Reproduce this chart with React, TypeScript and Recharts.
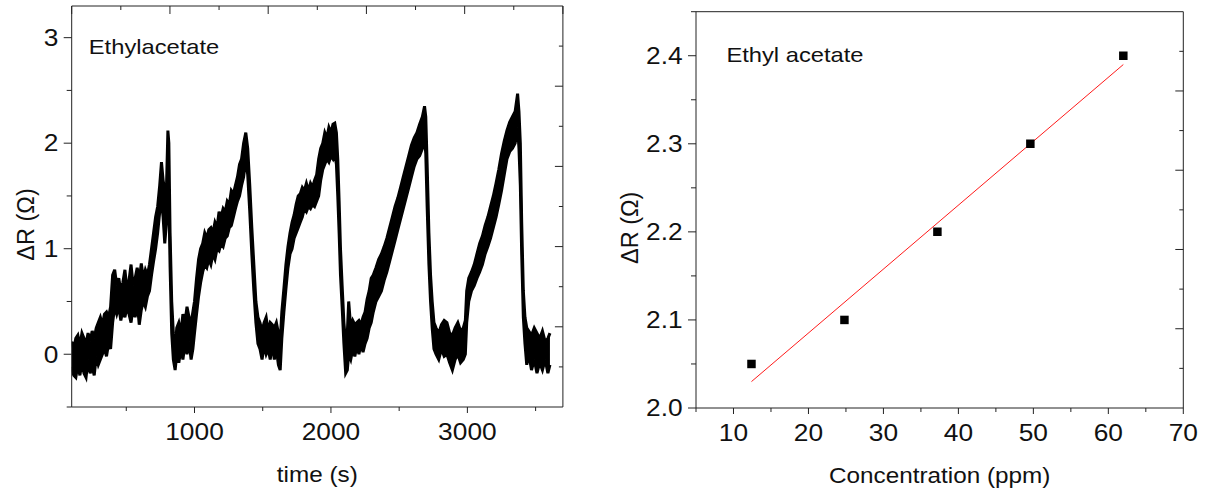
import React from 'react';
import { ComposedChart, Area, XAxis, YAxis, Scatter, Line, ZAxis } from 'recharts';

const FONT = '"Liberation Sans", Arial, Helvetica, sans-serif';
const SX = 1.13; // horizontal stretch of the original figure's lettering
const INK = '#222';
const TICK_FS = 23.3;
const TITLE_FS = 21.5;
const YTITLE_FS = 23.5;

// ---------- left panel: ΔR vs time (noisy band, low / high envelope) ----------
const timeS = [
  100, 115, 130, 145, 160, 175, 190, 205, 220, 235, 250, 265, 280, 295, 310, 325, 340, 355, 370, 385,
  400, 415, 430, 445, 460, 475, 490, 505, 520, 535, 550, 565, 580, 595, 610, 625, 640, 655,
  670, 685, 700, 715, 730, 745, 758, 770, 782, 795, 805, 812, 821, 833, 845, 858,
  870, 885, 900, 915, 930, 945, 960, 975, 988,
  1000, 1015, 1030, 1045, 1060, 1075, 1090, 1105, 1120, 1135, 1150, 1165, 1180, 1195, 1210, 1225, 1240, 1255, 1270, 1285, 1300, 1315, 1330, 1345, 1360, 1376,
  1390, 1405, 1420, 1435, 1450, 1465,
  1480, 1495, 1510, 1525, 1540, 1555, 1570, 1585, 1600, 1615, 1628,
  1640, 1655, 1670, 1685, 1700, 1715, 1730, 1745, 1760, 1775, 1790, 1805, 1820, 1835, 1850, 1865, 1880, 1895, 1910, 1925, 1940, 1955, 1970, 1985, 2000, 2015, 2028, 2040,
  2050, 2060, 2070, 2082, 2095, 2108,
  2120, 2130, 2145, 2160, 2175, 2190, 2205, 2220, 2235, 2250, 2265, 2280,
  2295, 2310, 2330, 2350, 2370, 2390, 2410, 2430, 2450, 2470, 2490, 2510, 2530, 2550, 2570, 2590, 2610, 2630, 2650, 2670, 2686,
  2695, 2705, 2718, 2730, 2742, 2755,
  2770, 2790, 2810, 2830, 2850, 2870, 2890, 2910, 2930, 2950, 2970, 2985,
  2995, 3010, 3030, 3050, 3070, 3090, 3110, 3130, 3150, 3170, 3190, 3210, 3230, 3250, 3270, 3290, 3310, 3330, 3350, 3368,
  3378, 3388, 3398, 3410, 3422,
  3435, 3450, 3470, 3490, 3510, 3530, 3550, 3570, 3590, 3605,
];
const lowOhm = [
  -0.12, -0.2, -0.22, -0.1, -0.2, -0.08, -0.18, -0.22, -0.05, -0.18, -0.12, -0.2, -0.02, -0.1, -0.05, 0.0, 0.05, -0.02, 0.1, 0.05,
  0.3, 0.45, 0.38, 0.45, 0.32, 0.42, 0.35, 0.45, 0.38, 0.3, 0.45, 0.35, 0.5, 0.28, 0.42, 0.5, 0.45, 0.55,
  0.6, 0.75, 0.88, 1.0, 1.15, 1.35, 1.45, 1.3, 1.05, 1.25, 1.6, 1.5, 0.83, 0.2, -0.05, -0.15,
  0.0, -0.08, 0.05, -0.05, 0.1, 0.0, 0.12, -0.05, 0.05,
  0.2, 0.38, 0.55, 0.68, 0.78, 0.85, 0.82, 0.9, 0.85, 0.95, 0.9, 1.0, 0.98, 1.05, 1.02, 1.1, 1.12, 1.2, 1.22, 1.3, 1.38, 1.45, 1.5, 1.6, 1.68, 1.85,
  1.7, 1.35, 0.95, 0.6, 0.3, 0.1,
  0.05, -0.05, 0.08, 0.0, 0.05, -0.05, 0.1, -0.05, 0.05, -0.1, -0.15,
  0.15, 0.4, 0.62, 0.82, 0.95, 1.0, 1.1, 1.15, 1.2, 1.25, 1.3, 1.38, 1.35, 1.4, 1.38, 1.42, 1.4, 1.45, 1.5, 1.65, 1.75, 1.8, 1.85, 1.82, 1.88, 1.85, 1.9, 1.8,
  1.5, 1.15, 0.75, 0.45, 0.1, -0.18,
  -0.15, 0.0, -0.05, 0.05, -0.02, 0.08, 0.0, 0.1, 0.02, 0.1, 0.15, 0.25,
  0.3, 0.4, 0.5, 0.55, 0.6, 0.7, 0.78, 0.88, 0.98, 1.08, 1.18, 1.28, 1.38, 1.48, 1.58, 1.68, 1.78, 1.85, 1.88, 1.95, 2.05,
  1.9, 1.4, 0.85, 0.5, 0.25, 0.05,
  0.0, -0.05, 0.05, -0.02, 0.0, -0.08, -0.15, -0.05, 0.0, -0.08, -0.05, 0.0,
  0.3, 0.5, 0.6, 0.65, 0.72, 0.78, 0.85, 0.95, 1.02, 1.1, 1.2, 1.3, 1.42, 1.55, 1.7, 1.85, 1.92, 1.95, 2.0, 2.15,
  1.95, 1.6, 0.95, 0.35, 0.1,
  -0.1, 0.0, -0.15, -0.05, -0.18, -0.08, -0.15, -0.05, -0.18, -0.1,
];
const highOhm = [
  0.12, 0.05, 0.15, 0.18, 0.08, 0.2, 0.15, 0.1, 0.2, 0.12, 0.22, 0.15, 0.25, 0.3, 0.35, 0.28, 0.38, 0.4, 0.35, 0.45,
  0.75, 0.8, 0.65, 0.72, 0.6, 0.68, 0.8, 0.62, 0.7, 0.85, 0.65, 0.72, 0.82, 0.7, 0.86, 0.72, 0.8, 0.75,
  0.85, 1.0, 1.15, 1.3, 1.4, 1.6, 1.82, 1.65, 1.55, 1.6, 2.12, 2.0, 1.15, 0.5, 0.2, 0.05,
  0.25, 0.3, 0.2, 0.38, 0.3, 0.45, 0.35, 0.3, 0.4,
  0.5, 0.72, 0.9, 1.0, 1.05, 1.15, 1.1, 1.18, 1.2, 1.15, 1.25, 1.2, 1.35, 1.3, 1.38, 1.35, 1.45, 1.42, 1.55, 1.52, 1.6, 1.68, 1.8, 1.85, 2.0, 2.1,
  1.95, 1.6, 1.2, 0.85, 0.5, 0.35,
  0.3, 0.22, 0.3, 0.35, 0.22, 0.3, 0.28, 0.25, 0.3, 0.2, 0.12,
  0.4, 0.62, 0.85, 1.02, 1.15, 1.25, 1.32, 1.42, 1.5, 1.52, 1.58, 1.55, 1.62, 1.55, 1.62, 1.58, 1.65, 1.7, 1.85, 1.95, 2.0, 2.1, 2.05, 2.15, 2.1, 2.18, 2.19, 2.1,
  1.85, 1.45, 1.0, 0.65, 0.3, 0.1,
  0.2, 0.5, 0.25, 0.32, 0.28, 0.3, 0.32, 0.28, 0.35, 0.4, 0.52, 0.6,
  0.72, 0.75, 0.82, 0.9, 0.95, 1.02, 1.1, 1.2, 1.3, 1.4, 1.48, 1.58, 1.68, 1.78, 1.88, 1.98, 2.05, 2.1, 2.18, 2.25, 2.35,
  2.25, 1.8, 1.15, 0.75, 0.5, 0.3,
  0.25, 0.2, 0.28, 0.32, 0.3, 0.2, 0.18, 0.25, 0.3, 0.22, 0.25, 0.32,
  0.6, 0.72, 0.78, 0.85, 0.95, 1.05, 1.12, 1.22, 1.3, 1.4, 1.5, 1.62, 1.75, 1.9, 2.02, 2.12, 2.2, 2.25, 2.3, 2.47,
  2.3, 2.0, 1.25, 0.6, 0.35,
  0.25, 0.22, 0.18, 0.25, 0.2, 0.15, 0.22, 0.12, 0.15, 0.2,
];
const timeTicks = [500, 1000, 1500, 2000, 2500, 3000, 3500];
const timeDRTicks = [-0.5, 0, 0.5, 1, 1.5, 2, 2.5, 3];
// top frame ticks of the left panel (ten divisions of the 100–3700 s range)
const timeFrameTicks = [100, 460, 820, 1180, 1540, 1900, 2260, 2620, 2980, 3340, 3700];

// ---------- right panel: ΔR vs concentration ----------
const concPpm = [12.4, 24.8, 37.2, 49.6, 62.0];
const calDR = [2.05, 2.1, 2.2, 2.3, 2.4];
const fitConc = [12.4, 62.0];
const fitDR = [2.03, 2.39];
const concTicks = [5, 10, 15, 20, 25, 30, 35, 40, 45, 50, 55, 60, 65, 70];
const calTicks = [2.0, 2.05, 2.1, 2.15, 2.2, 2.25, 2.3, 2.35, 2.4, 2.45];

// frame (opposite side) axes: ten divisions
const frameTicks = [0, 1, 2, 3, 4, 5, 6, 7, 8, 9, 10];
const frameInnerTicks = [1, 2, 3, 4, 5, 6, 7, 8, 9];

const leftData = timeS.map((t, i) => ({ t, band: [lowOhm[i], highOhm[i]] }));
const calData = concPpm.map((x, i) => ({ x, y: calDR[i] }));
const fitData = fitConc.map((x, i) => ({ x, y: fitDR[i] }));

type Side = 'bottom' | 'left' | 'top' | 'right';
const near = (v: number, step: number) => Math.abs(v / step - Math.round(v / step)) < 1e-6;

function makeTick(side: Side, isMajor: (v: number) => boolean, majorLen: number, minorLen: number, fmt?: (v: number) => string) {
  return (props: any) => {
    const { x, y, payload } = props;
    const v = Number(payload.value);
    const maj = isMajor(v);
    const len = maj ? majorLen : minorLen;
    let x2 = x;
    let y2 = y;
    if (side === 'bottom' || side === 'top') y2 = y + len;
    else x2 = x - len;
    let lab: any = null;
    if (maj && fmt) {
      if (side === 'bottom') {
        lab = (
          <g transform={`translate(${x},${y + 32.7}) scale(${SX},1)`}>
            <text x={0} y={0} textAnchor="middle" fontSize={TICK_FS} fontFamily={FONT} fill="#111">{fmt(v)}</text>
          </g>
        );
      } else if (side === 'left') {
        lab = (
          <g transform={`translate(${x - 13.3},${y + 8.3}) scale(${SX},1)`}>
            <text x={0} y={0} textAnchor="end" fontSize={TICK_FS} fontFamily={FONT} fill="#111">{fmt(v)}</text>
          </g>
        );
      }
    }
    return (
      <g>
        <line x1={x} y1={y} x2={x2} y2={y2} stroke={INK} strokeWidth={1} />
        {lab}
      </g>
    );
  };
}

const xTitle = (text: string) => (props: any) => {
  const vb = props.viewBox;
  return (
    <g transform={`translate(${vb.x + vb.width / 2},${vb.y + 74.7}) scale(${SX},1)`}>
      <text x={0} y={0} textAnchor="middle" fontSize={TITLE_FS} fontFamily={FONT} fill="#111">{text}</text>
    </g>
  );
};
const yTitle = (text: string) => (props: any) => {
  const vb = props.viewBox;
  const cx = vb.x + 14;
  const cy = vb.y + vb.height / 2 + 18;
  return (
    <g transform={`translate(${cx},${cy}) rotate(-90)`}>
      <text x={0} y={0} textAnchor="middle" dominantBaseline="central" fontSize={YTITLE_FS} fontFamily={FONT} fill="#111">{text}</text>
    </g>
  );
};

const axisLine = { stroke: INK, strokeWidth: 1 };

const bottomTimeTick = makeTick('bottom', (v) => near(v, 1000), 6, 4, (v) => String(v));
const leftTimeTick = makeTick('left', (v) => near(v, 1), 8, 5, (v) => String(v));
const topTimeFrameTick = makeTick('top', (v) => near((v - 100) / 360, 2), 8, 4);
const bottomConcTick = makeTick('bottom', (v) => near(v, 10), 6, 4, (v) => String(v));
const leftCalTick = makeTick('left', (v) => near(v, 0.1), 8, 5, (v) => v.toFixed(1));
const topFrameTick = makeTick('top', (v) => near(v, 2), 8, 4);
const rightFrameTick = makeTick('right', (v) => near(v, 2), 8, 4);

function Annotation({ x, y, text }: { x: number; y: number; text: string }) {
  return (
    <g transform={`translate(${x},${y}) scale(${SX},1)`}>
      <text x={0} y={0} fontSize={21} fontFamily={FONT} fill="#111">{text}</text>
    </g>
  );
}

export default function App() {
  return (
    <div style={{ position: 'absolute', left: 0, top: 0, width: 1210, height: 497, background: '#fff', overflow: 'hidden' }}>
      <div style={{ position: 'absolute', left: 0, top: 0 }}>
        <ComposedChart width={600} height={497} data={leftData} margin={{ top: 1, right: 32.1, bottom: 0, left: 11.7 }}>
          <XAxis xAxisId="b" dataKey="t" type="number" domain={[100, 3700]} allowDataOverflow ticks={timeTicks} interval={0}
            tickSize={0} tickMargin={0} tickLine={false} tick={bottomTimeTick} height={90} axisLine={axisLine} label={xTitle('time (s)')} />
          <XAxis xAxisId="t" orientation="top" dataKey="t" type="number" domain={[100, 3700]} allowDataOverflow ticks={timeFrameTicks} interval={0}
            tickSize={0} tickMargin={0} tickLine={false} tick={topTimeFrameTick} height={5} axisLine={axisLine} />
          <YAxis yAxisId="l" type="number" domain={[-0.5, 3.3]} allowDataOverflow ticks={timeDRTicks} interval={0}
            tickSize={0} tickMargin={0} tickLine={false} tick={leftTimeTick} width={60} axisLine={axisLine} label={yTitle('ΔR (Ω)')} />
          <YAxis yAxisId="r" orientation="right" type="number" domain={[0, 10]} allowDataOverflow ticks={frameInnerTicks} interval={0}
            tickSize={0} tickMargin={0} tickLine={false} tick={rightFrameTick} width={5} axisLine={axisLine} />
          <Area xAxisId="b" yAxisId="l" dataKey="band" type="linear" stroke="#000" strokeWidth={3} fill="#000" fillOpacity={1}
            dot={false} activeDot={false} isAnimationActive={false} />
        </ComposedChart>
      </div>
      <div style={{ position: 'absolute', left: 600, top: 0 }}>
        <ComposedChart width={610} height={497} margin={{ top: 6.7, right: 21.7, bottom: 0, left: 16 }}>
          <XAxis xAxisId="b" dataKey="x" type="number" domain={[5, 70]} allowDataOverflow ticks={concTicks} interval={0}
            tickSize={0} tickMargin={0} tickLine={false} tick={bottomConcTick} height={89} axisLine={axisLine} label={xTitle('Concentration (ppm)')} />
          <XAxis xAxisId="t" orientation="top" type="number" domain={[0, 10]} allowDataOverflow ticks={frameTicks} interval={0}
            tickSize={0} tickMargin={0} tickLine={false} tick={topFrameTick} height={5} axisLine={axisLine} />
          <YAxis yAxisId="l" type="number" domain={[2.0, 2.45]} allowDataOverflow ticks={calTicks} interval={0}
            tickSize={0} tickMargin={0} tickLine={false} tick={leftCalTick} width={80} axisLine={axisLine} label={yTitle('ΔR (Ω)')} />
          <YAxis yAxisId="r" orientation="right" type="number" domain={[0, 10]} allowDataOverflow ticks={frameInnerTicks} interval={0}
            tickSize={0} tickMargin={0} tickLine={false} tick={rightFrameTick} width={5} axisLine={axisLine} />
          <ZAxis range={[72, 72]} />
          <Line xAxisId="b" yAxisId="l" data={fitData} dataKey="y" type="linear" stroke="#ff1a1a" strokeWidth={1}
            dot={false} activeDot={false} isAnimationActive={false} />
          <Scatter xAxisId="b" yAxisId="l" data={calData} dataKey="y" fill="#000" shape="square" isAnimationActive={false} />
        </ComposedChart>
      </div>
      <svg width={1210} height={497} style={{ position: 'absolute', left: 0, top: 0, pointerEvents: 'none' }}>
        <Annotation x={88.8} y={54.3} text="Ethylacetate" />
        <Annotation x={726.4} y={61.7} text="Ethyl acetate" />
      </svg>
    </div>
  );
}
